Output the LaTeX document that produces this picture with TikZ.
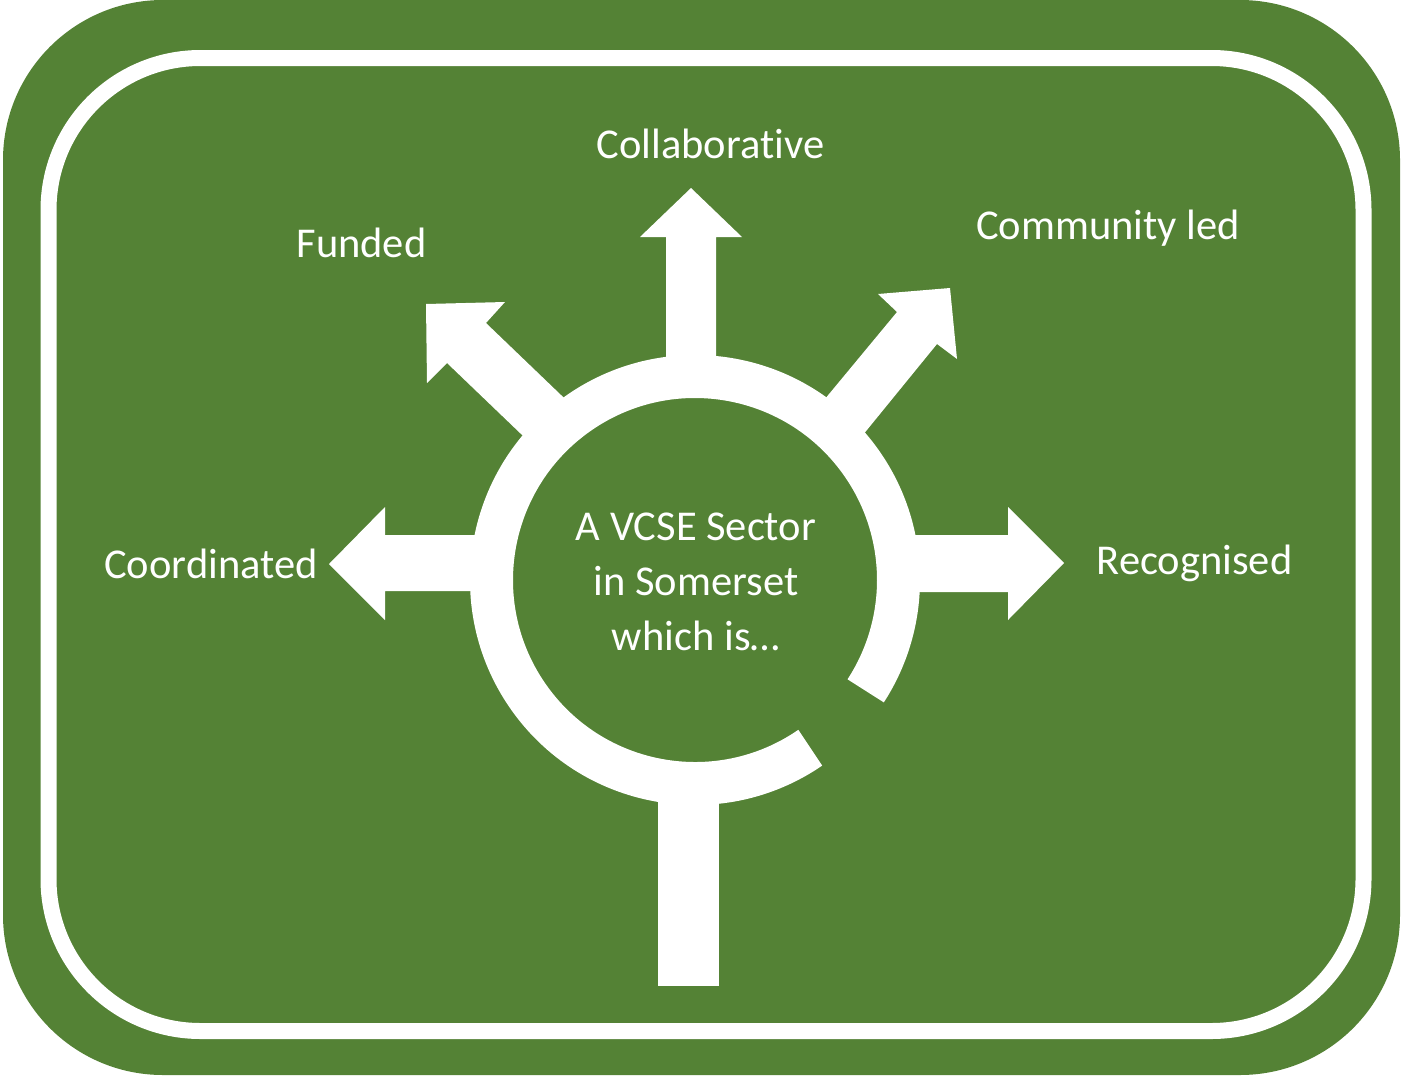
\documentclass[tikz,border=0pt]{standalone}
\usepackage{fontspec}
\setmainfont{Carlito}[Ligatures=NoCommon]
\definecolor{vgreen}{HTML}{548235}
\tikzset{
  lbl/.style={text=white, font=\fontsize{42.5}{55}\selectfont, inner sep=0pt, anchor=base},
  whiteshape/.style={fill=white, draw=none}
}
\begin{document}
\begin{tikzpicture}[x=1pt,y=-1pt]
\useasboundingbox (0,0) rectangle (1402,1076);
% frame
\fill[vgreen, rounded corners=160pt] (3,0) rectangle (1400,1075);
\draw[white, line width=16pt, rounded corners=152pt] (48.5,58) rectangle (1363.5,1031);
% arrows
\fill[whiteshape] (666,380) -- (666,237) -- (640,237) -- (691,188) -- (742,237) -- (716,237) -- (716,380) -- cycle;
\fill[whiteshape] (495,535) -- (385,535) -- (385,507) -- (329,564) -- (385,620) -- (385,591) -- (495,591) -- cycle;
\fill[whiteshape] (900,535) -- (1008,535) -- (1008,507) -- (1064,563) -- (1008,620) -- (1008,592) -- (900,592) -- cycle;
\fill[whiteshape] (586,419) -- (486,323) -- (505,302) -- (426,304) -- (427,383) -- (447,363) -- (545,457) -- cycle;
\fill[whiteshape] (810,417) -- (897,312) -- (878,294) -- (950,288) -- (957,359) -- (937,344) -- (849,452) -- cycle;
\fill[whiteshape] (658,780) rectangle (719,986);
% ring
\draw[white, line width=43pt] (695,580) ++(55.5:203.5) arc[start angle=55.5, end angle=393, radius=203.5];
% labels
\node[lbl] (collab) at (710.5,158) {Collaborative};
\node[lbl] (funded) at (361.5,257) {Funded};
\node[lbl] (commled) at (1108,239) {Community led};
\node[lbl] (coord) at (211,578) {Coordinated};
\node[lbl] (recog) at (1194.5,574) {Recognised};
\node[lbl, anchor=center, align=center] (centre) at (696,582) {A VCSE Sector\\in Somerset\\which is…};
\end{tikzpicture}
\end{document}
